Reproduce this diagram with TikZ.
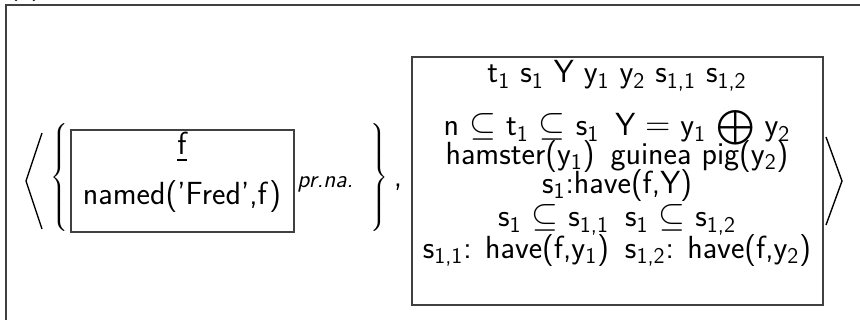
\documentclass[tikz,border=0pt]{standalone}
\usepackage{amsmath}
\usepackage{fontspec}
\usetikzlibrary{fit}
\renewcommand{\familydefault}{\sfdefault}
\newcommand{\sbs}[1]{\textsubscript{#1}}
\begin{document}
\begin{tikzpicture}[x=0.5pt,y=-0.5pt,
  frameline/.style={draw=black!75,line width=0.6pt},
  drsbox/.style={draw=black!75,line width=0.6pt,inner sep=0pt},
  txt/.style={anchor=base,inner sep=0pt,font=\fontsize{16}{19}\selectfont},
  angle/.style={line width=0.7pt,line join=miter}]
\useasboundingbox (0,0) rectangle (860,320);
% figure label, mostly above the page edge
\node[anchor=base west,inner sep=0pt,font=\fontsize{14}{16}\selectfont] (lab) at (8,-5) {(c)};
% outer frame
\draw[frameline] (6,330) -- (6,5) -- (870,5);

% name box
\coordinate (nb1) at (71,130);
\coordinate (nb2) at (294,232);
\node[drsbox,fit=(nb1)(nb2)] (namebox) {};
\node[txt] (fref) at (182,155) {\underline{f}};
\node[txt] (fname) at (182,205) {named('Fred',f)};
\node[anchor=base west,inner sep=0pt,font=\fontsize{12}{14}\selectfont\itshape] (prna) at (297,187) {pr.na.};

% braces and comma
\node[inner sep=0pt] (lbrace) at (61,180) {$\left\{\vrule height 27pt depth 27pt width 0pt\right.$};
\node[inner sep=0pt] (rbrace) at (378,180) {$\left.\vrule height 27pt depth 27pt width 0pt\right\}$};
\node[txt] (comma) at (398,186) {,};

% main box
\coordinate (mb1) at (412,57);
\coordinate (mb2) at (823,305);
\node[drsbox,fit=(mb1)(mb2)] (mainbox) {};
\node[txt] (univ) at (617,83) {t\sbs{1} s\sbs{1} Y y\sbs{1} y\sbs{2} s\sbs{1,1} s\sbs{1,2}};
\node[txt] (c1) at (617,136) {n $\subseteq$ t\sbs{1} $\subseteq$ s\sbs{1}\enspace Y $=$ y\sbs{1} $\bigoplus$ y\sbs{2}};
\node[txt] (c2) at (617,164) {hamster(y\sbs{1})\enspace guinea pig(y\sbs{2})};
\node[txt] (c3) at (617,193) {s\sbs{1}:have(f,Y)};
\node[txt] (c4) at (617,227) {s\sbs{1} $\subseteq$ s\sbs{1,1}\enspace s\sbs{1} $\subseteq$ s\sbs{1,2}};
\node[txt] (c5) at (617,258) {s\sbs{1,1}: have(f,y\sbs{1})\enspace s\sbs{1,2}: have(f,y\sbs{2})};

% angle brackets of the pair
\draw[angle] (42,133) -- (26,181) -- (42,229);
\draw[angle] (826,137) -- (842,181) -- (826,225);
\end{tikzpicture}
\end{document}
